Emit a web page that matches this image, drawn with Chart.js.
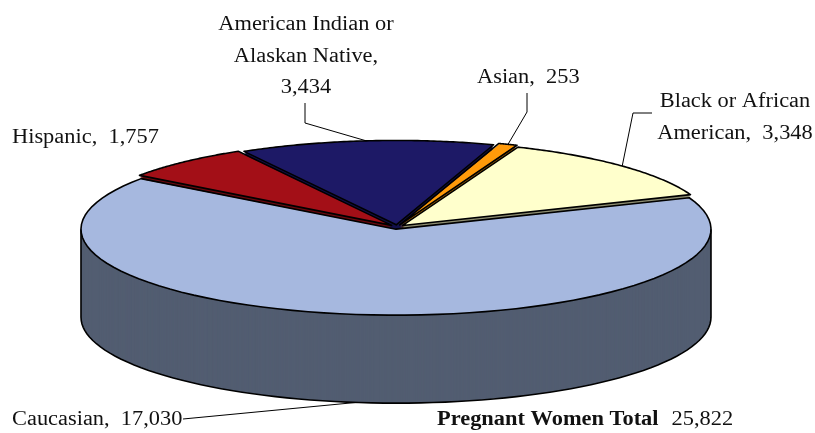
<!DOCTYPE html>
<html>
<head>
<meta charset="utf-8">
<script src="https://cdn.jsdelivr.net/npm/chart.js@4/dist/chart.umd.min.js"></script>
<style>
  html, body { margin: 0; padding: 0; background: #fff; }
  #wrap { width: 815px; height: 433px; position: relative; }
</style>
</head>
<body>
<div id="wrap"><canvas id="myChart"></canvas></div>
<script>
// data, in drawing order (clockwise from the Hispanic slice)
const categories = ['Hispanic', 'American Indian or Alaskan Native', 'Asian', 'Black or African American', 'Caucasian'];
const values = [1757, 3434, 253, 3348, 17030];
const totalLabel = 'Pregnant Women Total';

const topColors  = ['#A30F17', '#1D1966', '#FF9A0A', '#FFFFCC', '#A6B8DF'];
const sideColors = ['#6B0A0F', '#12104A', '#B86E00', '#8E8E72', '#525D71'];

const TILT = 0.273;   // vertical squash of the pie
const DEPTH = 88;     // thickness of the pie, px
const FONT = '"Liberation Serif", "Times New Roman", serif';
const FSIZE = 20;
const HSCALE = 1.12;

// where each label sits (index matches categories)
const labelPos = [
  { x: 12,  y: 143, align: 'left' },
  { x: 306, y: 30,  align: 'center', maxW: 182, leader: [[305, 103], [305, 123]], k: 0 },
  { x: 477, y: 83,  align: 'left', leader: [[527, 93], [527, 112]], k: 0 },
  { x: 735, y: 107, align: 'center', maxW: 165, leader: [[652, 113], [633, 113]], k: 0 },
  { x: 12,  y: 425, align: 'left', leader: [[183, 419]], k: DEPTH }
];

function fmt(v) { return v.toLocaleString('en-US'); }

// arc geometry as the ArcElement draws it (with its offset)
function geom(arc) {
  const off = (arc.options.offset || 0) / 4;
  const mid = (arc.startAngle + arc.endAngle) / 2;
  const fix = 1 - Math.sin(Math.min(Math.PI, arc.circumference || 0));
  return { x: arc.x + Math.cos(mid) * off, y: arc.y + Math.sin(mid) * off,
           r: arc.outerRadius + off * fix, a0: arc.startAngle, a1: arc.endAngle, mid: mid };
}
function pt(g, cy, a, k) {
  return [g.x + g.r * Math.cos(a), cy + (g.y - cy + g.r * Math.sin(a)) * TILT + k];
}
function frontParts(g) {
  const parts = [];
  for (let n = -2; n <= 2; n++) {
    const s = Math.max(g.a0, n * 2 * Math.PI), e = Math.min(g.a1, n * 2 * Math.PI + Math.PI);
    if (e > s) parts.push([s, e]);
  }
  return parts;
}

function txt(ctx, str, x, y, align, bold) {
  ctx.save();
  ctx.font = (bold ? 'bold ' : '') + FSIZE + 'px ' + FONT;
  ctx.fillStyle = '#111';
  ctx.textAlign = align;
  ctx.textBaseline = 'alphabetic';
  ctx.translate(x, y);
  ctx.scale(HSCALE, 1);
  ctx.fillText(str, 0, 0);
  const w = ctx.measureText(str).width * HSCALE;
  ctx.restore();
  return w;
}

const pie3d = {
  id: 'pie3d',
  beforeDatasetsDraw(chart) {
    const ctx = chart.ctx;
    const arcs = chart.getDatasetMeta(0).data;
    const cy = arcs[0].y;
    // side walls: stacked copies of the arcs
    for (let k = DEPTH; k >= 1; k--) {
      ctx.save();
      ctx.translate(0, cy + k);
      ctx.scale(1, TILT);
      ctx.translate(0, -cy);
      arcs.forEach((arc, i) => {
        const copy = Object.create(arc);
        copy.options = Object.assign({}, arc.options, { backgroundColor: sideColors[i], borderWidth: 0 });
        copy.draw(ctx);
      });
      ctx.restore();
    }
    // outline of the front walls
    ctx.save();
    ctx.strokeStyle = '#000';
    ctx.lineWidth = 1.6;
    ctx.lineJoin = 'round';
    arcs.forEach(arc => {
      const g = geom(arc);
      frontParts(g).forEach(([s, e]) => {
        ctx.beginPath();
        let p = pt(g, cy, s, 0);
        ctx.moveTo(p[0], p[1]);
        for (let j = 0; j <= 80; j++) {
          p = pt(g, cy, s + (e - s) * j / 80, DEPTH);
          ctx.lineTo(p[0], p[1]);
        }
        p = pt(g, cy, e, 0);
        ctx.lineTo(p[0], p[1]);
        ctx.stroke();
      });
    });
    ctx.restore();
    // top faces drawn by the controller under this transform
    ctx.save();
    ctx.translate(0, cy);
    ctx.scale(1, TILT);
    ctx.translate(0, -cy);
  },
  afterDatasetsDraw(chart) {
    const ctx = chart.ctx;
    ctx.restore();
    const arcs = chart.getDatasetMeta(0).data;
    const cy = arcs[0].y;
    ctx.save();
    ctx.strokeStyle = '#000';
    ctx.lineWidth = 1.6;
    ctx.lineJoin = 'round';
    arcs.forEach(arc => {
      const g = geom(arc);
      ctx.beginPath();
      ctx.moveTo(g.x, cy + (g.y - cy) * TILT);
      for (let j = 0; j <= 80; j++) {
        const p = pt(g, cy, g.a0 + (g.a1 - g.a0) * j / 80, 0);
        ctx.lineTo(p[0], p[1]);
      }
      ctx.closePath();
      ctx.stroke();
    });
    ctx.restore();
  },
  afterDraw(chart) {
    const ctx = chart.ctx;
    const arcs = chart.getDatasetMeta(0).data;
    const cy = arcs[0].y;
    ctx.save();
    ctx.font = FSIZE + 'px ' + FONT;
    categories.forEach((name, i) => {
      const L = labelPos[i];
      const tokens = (name + ',').split(' ');
      tokens.push(fmt(values[i]));
      const lines = [];
      let line = '';
      tokens.forEach((t, j) => {
        const sep = j === tokens.length - 1 ? '  ' : ' ';
        const cand = line ? line + sep + t : t;
        if (L.maxW && line && ctx.measureText(cand).width * HSCALE > L.maxW) {
          lines.push(line);
          line = t;
        } else line = cand;
      });
      lines.push(line);
      lines.forEach((s, j) => txt(ctx, s, L.x, L.y + j * 31.5, L.align, false));
      if (L.leader) {
        const g = geom(arcs[i]);
        const end = pt(g, cy, g.mid, L.k);
        ctx.beginPath();
        ctx.strokeStyle = '#000';
        ctx.lineWidth = 1;
        ctx.moveTo(L.leader[0][0], L.leader[0][1]);
        L.leader.slice(1).forEach(p => ctx.lineTo(p[0], p[1]));
        ctx.lineTo(end[0], end[1]);
        ctx.stroke();
      }
    });
    const total = values.reduce((a, b) => a + b, 0);
    const w = txt(ctx, totalLabel, 437, 425, 'left', true);
    txt(ctx, fmt(total), 437 + w + 13, 425, 'left', false);
    ctx.restore();
  }
};

new Chart('myChart', {
  type: 'pie',
  data: {
    labels: categories,
    datasets: [{
      data: values,
      backgroundColor: topColors,
      borderWidth: 0,
      offset: 32,
      radius: 307,
      clip: false
    }]
  },
  options: {
    responsive: true,
    maintainAspectRatio: false,
    animation: false,
    events: [],
    rotation: -54,
    layout: { padding: { left: 0, right: 21, top: 21, bottom: 0 } },
    plugins: { legend: { display: false }, tooltip: { enabled: false } }
  },
  plugins: [pie3d]
});
</script>
</body>
</html>
